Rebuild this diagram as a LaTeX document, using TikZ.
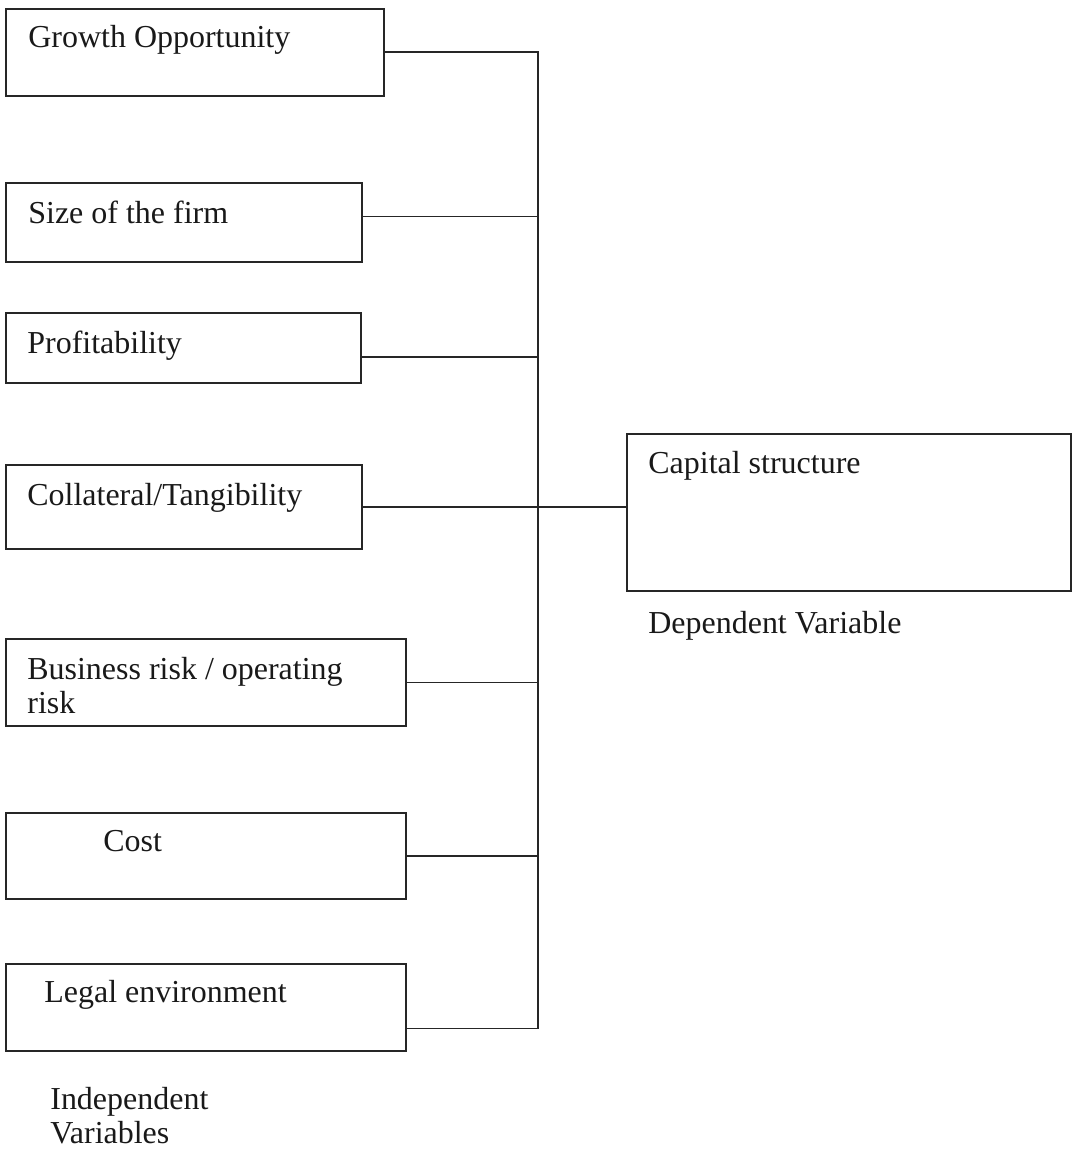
\documentclass[tikz,border=0pt]{standalone}
\usepackage{fontspec}
\setmainfont{Liberation Serif}
\usetikzlibrary{positioning}

\begin{document}
\begin{tikzpicture}[
    x=0.02cm, y=-0.02cm,
    varbox/.style 2 args={draw=black!85, line width=1pt, minimum width=#1*0.02cm, minimum height=#2*0.02cm, anchor=north west, inner sep=0pt},
    lbl/.style={anchor=base west, inner sep=0pt, text=black!90, font=\fontsize{18.2}{19.3}\selectfont, align=left},
    link/.style={draw=black!85, line width=1pt},
]
\useasboundingbox (0,0) rectangle (1077,1149);
% independent variables
\node[varbox={378}{87}]  (growth)  at (5,8)   {};
\node[varbox={356}{79}]  (size)    at (5,182) {};
\node[varbox={355}{70}]  (profit)  at (5,312) {};
\node[varbox={356}{84}]  (collat)  at (5,464) {};
\node[varbox={400}{87}]  (busrisk) at (5,638) {};
\node[varbox={400}{86}]  (cost)    at (5,812) {};
\node[varbox={400}{87}]  (legal)   at (5,963) {};
% dependent variable
\node[varbox={444}{157}] (capital) at (626,433) {};

\node[lbl] (growthtxt)  at ([shift={(23,40)}]growth.north west)  {Growth Opportunity};
\node[lbl] (sizetxt)    at ([shift={(23,41)}]size.north west)    {Size of the firm};
\node[lbl] (profittxt)  at ([shift={(22,41)}]profit.north west)  {Profitability};
\node[lbl] (collattxt)  at ([shift={(22,41)}]collat.north west)  {Collateral/Tangibility};
\node[lbl] (busrisktxt) at ([shift={(22,75)}]busrisk.north west) {Business risk / operating\\risk};
\node[lbl] (costtxt)    at ([shift={(98,39)}]cost.north west)    {Cost};
\node[lbl] (legaltxt)   at ([shift={(39,39)}]legal.north west)   {Legal environment};
\node[lbl] (capitaltxt) at ([shift={(22,40)}]capital.north west) {Capital structure};
\node[lbl] (deptxt)     at ([shift={(22,42)}]capital.south west) {Dependent Variable};
\node[lbl] (indeptxt)   at ([shift={(45,92)}]legal.south west)   {Independent\\Variables};

% connectors to the bus
\coordinate (bus) at (538,0);
\coordinate (sizeport)   at ([shift={(0,-6)}]size.east);
\coordinate (profitport) at ([shift={(0,9)}]profit.east);
\coordinate (legalport)  at ([shift={(0,21)}]legal.east);
\draw[link] (growth.east) -- (growth.east -| bus) -- (legalport -| bus) -- (legalport);
\foreach \n in {sizeport, profitport, busrisk.east, cost.east}
  \draw[link] (\n) -- (\n -| bus);
\draw[link] (collat.east) -- (collat.east -| capital.west);
\end{tikzpicture}
\end{document}
